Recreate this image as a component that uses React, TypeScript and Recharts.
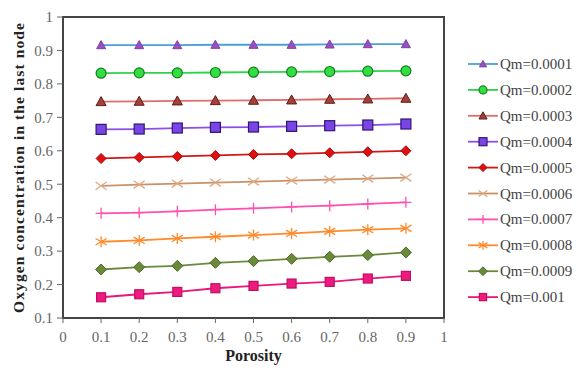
import React from 'react';
import { LineChart, Line, XAxis, YAxis, ReferenceArea, Label } from 'recharts';

const porosity = [0.1, 0.2, 0.3, 0.4, 0.5, 0.6, 0.7, 0.8, 0.9];
const xTicks = [0, 0.1, 0.2, 0.3, 0.4, 0.5, 0.6, 0.7, 0.8, 0.9, 1];
const yTicks = [0.1, 0.2, 0.3, 0.4, 0.5, 0.6, 0.7, 0.8, 0.9, 1];

const qm0001 = [0.916, 0.916, 0.916, 0.917, 0.917, 0.917, 0.918, 0.919, 0.919];
const qm0002 = [0.832, 0.833, 0.833, 0.834, 0.835, 0.836, 0.837, 0.838, 0.839];
const qm0003 = [0.747, 0.748, 0.749, 0.750, 0.751, 0.752, 0.754, 0.755, 0.757];
const qm0004 = [0.664, 0.665, 0.668, 0.670, 0.671, 0.673, 0.675, 0.677, 0.680];
const qm0005 = [0.577, 0.580, 0.583, 0.586, 0.589, 0.591, 0.594, 0.597, 0.600];
const qm0006 = [0.495, 0.499, 0.502, 0.505, 0.508, 0.511, 0.514, 0.517, 0.520];
const qm0007 = [0.413, 0.415, 0.419, 0.424, 0.428, 0.432, 0.436, 0.441, 0.446];
const qm0008 = [0.328, 0.332, 0.338, 0.343, 0.348, 0.353, 0.359, 0.364, 0.368];
const qm0009 = [0.245, 0.252, 0.256, 0.265, 0.270, 0.277, 0.283, 0.288, 0.296];
const qm001 = [0.162, 0.171, 0.178, 0.189, 0.196, 0.203, 0.208, 0.218, 0.226];

const seriesNames = ['Qm=0.0001', 'Qm=0.0002', 'Qm=0.0003', 'Qm=0.0004', 'Qm=0.0005',
  'Qm=0.0006', 'Qm=0.0007', 'Qm=0.0008', 'Qm=0.0009', 'Qm=0.001'];
const seriesValues = [qm0001, qm0002, qm0003, qm0004, qm0005, qm0006, qm0007, qm0008, qm0009, qm001];

type Shape = 'triangle' | 'circle' | 'square' | 'diamond' | 'x' | 'plus' | 'star';

interface SeriesStyle {
  line: string;
  shape: Shape;
  fill: string;
  stroke: string;
  size: number;
}

const styles: SeriesStyle[] = [
  { line: '#4a9fd6', shape: 'triangle', fill: '#9a4fc0', stroke: '#8040a8', size: 9 },
  { line: '#2ed34a', shape: 'circle', fill: '#2fe040', stroke: '#1c7a24', size: 10 },
  { line: '#e06c6c', shape: 'triangle', fill: '#a8403a', stroke: '#5a1d18', size: 10 },
  { line: '#8a50e8', shape: 'square', fill: '#7a44e6', stroke: '#2f1870', size: 10 },
  { line: '#d01818', shape: 'diamond', fill: '#e01010', stroke: '#a00c0c', size: 10 },
  { line: '#c8926a', shape: 'x', fill: 'none', stroke: '#e0a880', size: 11 },
  { line: '#ff4fb0', shape: 'plus', fill: 'none', stroke: '#ff4fb0', size: 11 },
  { line: '#ff8a2a', shape: 'star', fill: 'none', stroke: '#ff8a2a', size: 11 },
  { line: '#6a8a3a', shape: 'diamond', fill: '#6a8a3a', stroke: '#4a6a28', size: 11 },
  { line: '#e8187a', shape: 'square', fill: '#ee1a80', stroke: '#c0105e', size: 9 },
];

const data = porosity.map((p, i) => {
  const row: Record<string, number> = { porosity: p };
  seriesValues.forEach((vals, s) => {
    row[`s${s}`] = vals[i];
  });
  return row;
});

const Marker = ({ cx, cy, st }: { cx: number; cy: number; st: SeriesStyle }) => {
  const h = st.size / 2;
  switch (st.shape) {
    case 'triangle':
      return <polygon points={`${cx},${cy - h} ${cx + h},${cy + h * 0.8} ${cx - h},${cy + h * 0.8}`} fill={st.fill} stroke={st.stroke} strokeWidth={1} />;
    case 'circle':
      return <circle cx={cx} cy={cy} r={h} fill={st.fill} stroke={st.stroke} strokeWidth={1.2} />;
    case 'square':
      return <rect x={cx - h} y={cy - h} width={st.size} height={st.size} fill={st.fill} stroke={st.stroke} strokeWidth={1.2} />;
    case 'diamond':
      return <polygon points={`${cx},${cy - h} ${cx + h},${cy} ${cx},${cy + h} ${cx - h},${cy}`} fill={st.fill} stroke={st.stroke} strokeWidth={1} />;
    case 'x':
      return (
        <g stroke={st.stroke} strokeWidth={1.3}>
          <line x1={cx - h} y1={cy - h * 0.7} x2={cx + h} y2={cy + h * 0.7} />
          <line x1={cx - h} y1={cy + h * 0.7} x2={cx + h} y2={cy - h * 0.7} />
        </g>
      );
    case 'plus':
      return (
        <g stroke={st.stroke} strokeWidth={1.3}>
          <line x1={cx} y1={cy - h} x2={cx} y2={cy + h} />
          <line x1={cx - h} y1={cy} x2={cx + h} y2={cy} />
        </g>
      );
    case 'star':
    default:
      return (
        <g stroke={st.stroke} strokeWidth={1.3}>
          <line x1={cx} y1={cy - h} x2={cx} y2={cy + h} />
          <line x1={cx - h} y1={cy - h * 0.6} x2={cx + h} y2={cy + h * 0.6} />
          <line x1={cx - h} y1={cy + h * 0.6} x2={cx + h} y2={cy - h * 0.6} />
        </g>
      );
  }
};

const serif = "'Liberation Serif', 'DejaVu Serif', serif";
const tickStyle = { fill: '#666', fontSize: 15, fontFamily: serif };

const App: React.FC = () => {
  return (
    <div style={{ position: 'absolute', left: 0, top: 0, width: 580, height: 373, background: '#fff' }}>
      <LineChart width={580} height={373} data={data} margin={{ top: 17, right: 136, bottom: 25, left: 18 }}>
        <XAxis
          dataKey="porosity"
          type="number"
          domain={[0, 1]}
          ticks={xTicks}
          tick={tickStyle}
          tickSize={5}
          tickMargin={8}
          height={30}
          stroke="#444"
          axisLine={{ stroke: '#444', strokeWidth: 2 }}
          tickLine={{ stroke: '#666' }}
        >
          <Label value="Porosity" position="bottom" offset={2}
            style={{ fill: '#222', fontSize: 16, fontWeight: 'bold', fontFamily: serif }} />
        </XAxis>
        <YAxis
          type="number"
          domain={[0.1, 1]}
          ticks={yTicks}
          tick={tickStyle}
          tickSize={6}
          tickMargin={4}
          width={45}
          stroke="#444"
          axisLine={{ stroke: '#444', strokeWidth: 2 }}
          tickLine={{ stroke: '#666' }}
          allowDataOverflow
        >
          <Label value="Oxygen concentration  in the last node" angle={-90} position="left" offset={0}
            style={{ fill: '#222', fontSize: 15.5, letterSpacing: 1.1, fontWeight: 'bold', fontFamily: serif, textAnchor: 'middle', whiteSpace: 'pre' }} />
        </YAxis>
        <ReferenceArea x1={0} x2={1} y1={0.1} y2={1} fill="none" stroke="#444" strokeWidth={2} fillOpacity={0} />
        {seriesNames.map((name, s) => (
          <Line
            key={name}
            name={name}
            dataKey={`s${s}`}
            type="linear"
            stroke={styles[s].line}
            strokeWidth={1.8}
            isAnimationActive={false}
            activeDot={false}
            dot={(p: any) => <Marker key={`${name}-${p.index}`} cx={p.cx} cy={p.cy} st={styles[s]} />}
          />
        ))}
      </LineChart>
      <svg style={{ position: 'absolute', left: 464, top: 52 }} width={116} height={260}>
        {seriesNames.map((name, s) => {
          const y = 12 + s * 25.9;
          return (
            <g key={name}>
              <line x1={4} x2={34} y1={y} y2={y} stroke={styles[s].line} strokeWidth={1.8} />
              <Marker cx={19} cy={y} st={{ ...styles[s], size: styles[s].size * 0.8 }} />
              <text x={36} y={y + 5} fontSize={15} fontFamily={serif} fill="#444">{name}</text>
            </g>
          );
        })}
      </svg>
    </div>
  );
};

export default App;
